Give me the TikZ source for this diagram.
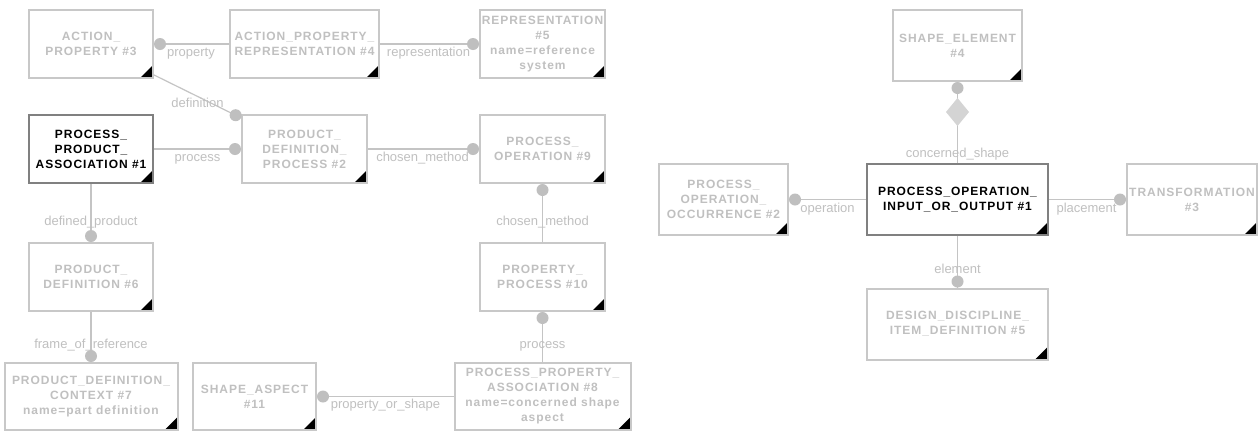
\documentclass[tikz,border=0pt]{standalone}
\usepackage{fontspec}
\setmainfont{Liberation Sans}
\newfontfamily\boxfont[LetterSpace=8]{Liberation Sans}
\newfontfamily\labfont{Liberation Sans}
\usetikzlibrary{calc}
\definecolor{bordergray}{HTML}{C8C8C8}
\definecolor{textgray}{HTML}{C0C0C0}
\definecolor{linegray}{HTML}{C4C4C4}
\definecolor{dotgray}{HTML}{BFBFBF}
\definecolor{focusgray}{HTML}{808080}
\definecolor{diafill}{HTML}{D4D4D4}
\newcommand\dotlink[2]{%
  \draw[conn] (#1) -- (#2) coordinate[pos=1] (tmpend);
  \node[dot] at ($(tmpend)!6pt!(#1)$) {};}
\begin{document}
\begin{tikzpicture}[x=1pt,y=-1pt,
  box/.style={draw=bordergray, line width=2pt, fill=white, inner sep=0pt,
    align=center, text=textgray,
    font=\boxfont\bfseries\fontsize{12pt}{15pt}\selectfont,
    execute at begin node={\rule{0pt}{12.5pt}},
    path picture={\fill[black] (path picture bounding box.south east)
      -- ++(-13pt,0pt) -- ++(13pt,13pt) -- cycle;}},
  focus/.style={box, draw=focusgray, text=black},
  conn/.style={draw=linegray, line width=1.2pt},
  dot/.style={circle, fill=dotgray, draw=none, inner sep=0pt, minimum size=12pt},
  lab/.style={text=textgray, inner sep=0pt, anchor=base,
    font=\labfont\fontsize{13pt}{15pt}\selectfont}]
\useasboundingbox[fill=white] (0,0) rectangle (1260,432);

% ---------- left diagram ----------
\node[box, minimum width=124pt, minimum height=68pt] (AP3) at (91,44) {ACTION\_\\PROPERTY \#3};
\node[box, minimum width=149pt, minimum height=68pt] (APR4) at (304.5,44) {ACTION\_PROPERTY\_\\REPRESENTATION \#4};
\node[box, minimum width=125pt, minimum height=68pt] (REP5) at (542.5,44) {REPRESENTATION\\\#5\\name=reference\\system};
\node[focus, minimum width=124pt, minimum height=68pt] (PPA1) at (91,149) {PROCESS\_\\PRODUCT\_\\ASSOCIATION \#1};
\node[box, minimum width=125pt, minimum height=68pt] (PDP2) at (304.5,149) {PRODUCT\_\\DEFINITION\_\\PROCESS \#2};
\node[box, minimum width=125pt, minimum height=68pt] (PO9) at (542.5,149) {PROCESS\_\\OPERATION \#9};
\node[box, minimum width=124pt, minimum height=68pt] (PD6) at (91,277) {PRODUCT\_\\DEFINITION \#6};
\node[box, minimum width=125pt, minimum height=68pt] (PP10) at (542.5,277) {PROPERTY\_\\PROCESS \#10};
\node[box, minimum width=173pt, minimum height=67pt] (PDC7) at (91,396.5) {PRODUCT\_DEFINITION\_\\CONTEXT \#7\\name=part definition};
\node[box, minimum width=123pt, minimum height=67pt] (SA11) at (254.5,396.5) {SHAPE\_ASPECT\\\#11};
\node[box, minimum width=176pt, minimum height=67pt] (PPA8) at (542.5,396.5) {PROCESS\_PROPERTY\_\\ASSOCIATION \#8\\name=concerned shape\\aspect};

% ---------- right diagram ----------
\node[box, minimum width=129pt, minimum height=71pt] (SE4) at (957.5,45.5) {SHAPE\_ELEMENT\\\#4};
\node[focus, minimum width=181pt, minimum height=71pt] (POIO1) at (957.5,199.5) {PROCESS\_OPERATION\_\\INPUT\_OR\_OUTPUT \#1};
\node[box, minimum width=129pt, minimum height=71pt] (POO2) at (723.5,199.5) {PROCESS\_\\OPERATION\_\\OCCURRENCE \#2};
\node[box, minimum width=130pt, minimum height=71pt] (TR3) at (1192,199.5) {TRANSFORMATION\\\#3};
\node[box, minimum width=181pt, minimum height=71pt] (DDID5) at (957.5,324) {DESIGN\_DISCIPLINE\_\\ITEM\_DEFINITION \#5};

% ---------- connectors ----------
\dotlink{APR4}{AP3}
\dotlink{APR4}{REP5}
\dotlink{AP3}{PDP2}
\dotlink{PPA1}{PDP2}
\dotlink{PDP2}{PO9}
\dotlink{PPA1}{PD6}
\dotlink{PD6}{PDC7}
\dotlink{PP10}{PO9}
\dotlink{PPA8}{PP10}
\dotlink{PPA8}{SA11}

\dotlink{POIO1}{SE4}
\fill[diafill] ($(SE4.south)+(0,16)$) -- ++(11.5,14) -- ++(-11.5,14) -- ++(-11.5,-14) -- cycle;
\dotlink{POIO1}{POO2}
\dotlink{POIO1}{TR3}
\dotlink{POIO1}{DDID5}

% ---------- labels ----------
\node[lab] (l1) at (191,56) {property};
\node[lab] (l2) at (428.5,56) {representation};
\node[lab] (l3) at (197.5,107.5) {definition};
\node[lab] (l4) at (197.5,161) {process};
\node[lab] (l5) at (422.5,161) {chosen\_method};
\node[lab] (l6) at (91,225) {defined\_product};
\node[lab] (l7) at (91,348) {frame\_of\_reference};
\node[lab] (l8) at (542.5,225) {chosen\_method};
\node[lab] (l9) at (542.5,348) {process};
\node[lab] (l10) at (385.5,408) {property\_or\_shape};
\node[lab] (l11) at (957.5,157) {concerned\_shape};
\node[lab] (l12) at (827.5,212) {operation};
\node[lab] (l13) at (1086.5,212) {placement};
\node[lab] (l14) at (957.5,273) {element};
\end{tikzpicture}
\end{document}
